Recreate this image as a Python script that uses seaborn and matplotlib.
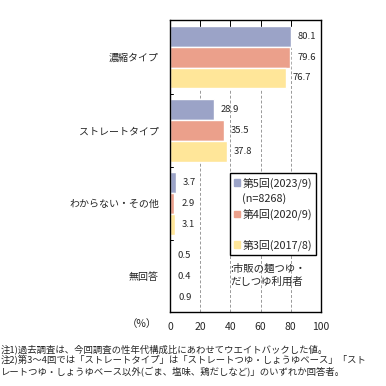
import pandas as pd
import numpy as np
import seaborn as sns
import matplotlib.pyplot as plt
from matplotlib.patches import Patch

# chart data
categories = ["濃縮タイプ", "ストレートタイプ", "わからない・その他", "無回答"]
surveys = ["第5回(2023/9)", "第4回(2020/9)", "第3回(2017/8)"]
v5 = [80.1, 28.9, 3.7, 0.5]
v4 = [79.6, 35.5, 2.9, 0.4]
v3 = [76.7, 37.8, 3.1, 0.9]
colors = ["#9BA3C7", "#EBA08B", "#FFE699"]
xticks = [0, 20, 40, 60, 80, 100]

rows = []
for s, vals in zip(surveys, [v5, v4, v3]):
    for c, v in zip(categories, vals):
        rows.append({"category": c, "value": v, "survey": s})
df = pd.DataFrame(rows)

sns.set_style("white")
plt.rcParams["font.family"] = ["Noto Sans CJK JP", "DejaVu Sans"]

fig = plt.figure(figsize=(3.86, 3.86), dpi=100)
ax = fig.add_axes([170 / 386, 1 - 312 / 386, 151 / 386, 292 / 386])

sns.barplot(data=df, x="value", y="category", hue="survey", order=categories,
            hue_order=surveys, palette=colors, orient="h", width=0.86,
            saturation=1, ax=ax, legend=False)

for cont in ax.containers:
    ax.bar_label(cont, fmt="%.1f", padding=5, fontsize=6.8)

ax.set_xlim(0, 100)
ax.set_ylim(3.49, -0.507)
ax.set_xticks(xticks)
ax.set_xticklabels([str(t) for t in xticks], fontsize=7.5)
ax.tick_params(axis="x", length=0, pad=7)
ax.tick_params(axis="y", length=0, pad=8, labelsize=7.2)
ax.set_xlabel("")
ax.set_ylabel("")
for t in [20, 40, 60, 80]:
    ax.axvline(t, color="#999999", linestyle=(0, (3, 2)), linewidth=0.7, zorder=0)
    ax.plot([t, t], [-0.507, -0.43], color="black", linewidth=0.7, clip_on=False)
for b in [0.5, 1.5, 2.5]:
    ax.plot([0, 2], [b, b], color="black", linewidth=0.7)
for sp in ax.spines.values():
    sp.set_color("black")
    sp.set_linewidth(1)

handles = [Patch(color=colors[0]), Patch(color="none"), Patch(color=colors[1]),
           Patch(color="none"), Patch(color=colors[2])]
labels = [surveys[0], "(n=8268)", surveys[1], " ", surveys[2]]
leg = ax.legend(handles, labels, loc="upper left", bbox_to_anchor=(0.397, 0.476),
                borderaxespad=0, fontsize=7.8, handlelength=0.55, handleheight=0.55,
                handletextpad=0.2, labelspacing=0.42, borderpad=0.4,
                fancybox=False, edgecolor="black", framealpha=1)
leg.get_frame().set_linewidth(1)

ax.text(0.397, 0.165, ":市販の麺つゆ・\nだしつゆ利用者", transform=ax.transAxes,
        fontsize=7.5, va="top", ha="left", linespacing=1.3)

fig.text(142 / 386, 1 - 324 / 386, "（%）", fontsize=7.5, ha="center", va="center")

notes = ("注1)過去調査は、今回調査の性年代構成比にあわせてウエイトバックした値。\n"
         "注2)第3～4回では「ストレートタイプ」は「ストレートつゆ・しょうゆベース」「スト\n"
         "レートつゆ・しょうゆベース以外(ごま、塩味、鶏だしなど)」のいずれか回答者。")
fig.text(1 / 386, 1 - 344 / 386, notes, fontsize=6.75, ha="left", va="top", linespacing=1.2)

plt.savefig("out.png", dpi=100)
